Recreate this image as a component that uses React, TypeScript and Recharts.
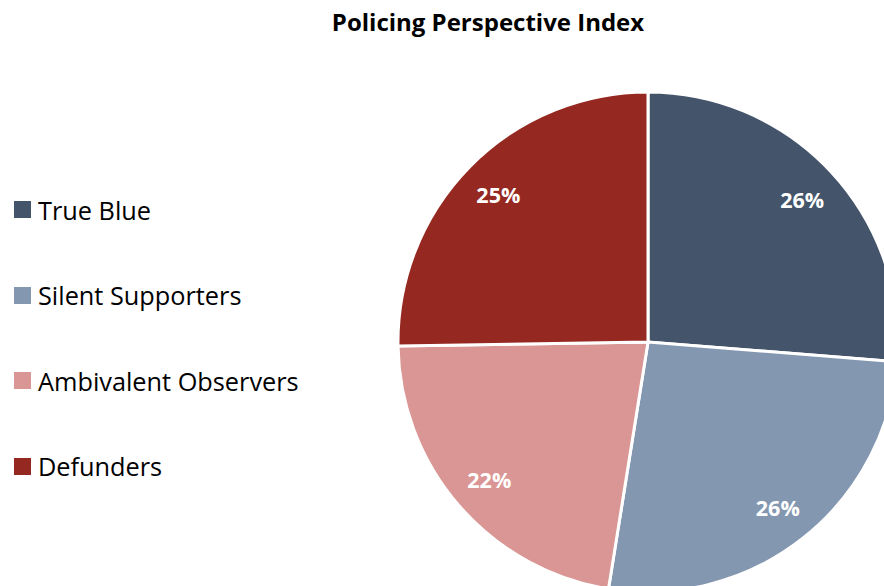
import { PieChart, Pie, Cell } from "recharts";

const categories = ["True Blue", "Silent Supporters", "Ambivalent Observers", "Defunders"];
const shares = [26, 26, 22, 25];
const colors = ["#44546A", "#8497B0", "#DA9694", "#952820"];

const data = categories.map((name, i) => ({ name, value: shares[i] }));

const FONT = "'Open Sans', 'Noto Sans', sans-serif";
const RAD = Math.PI / 180;

function renderLabel(props: any) {
  const { cx, cy, midAngle, outerRadius, percent } = props;
  const r = outerRadius * 0.84;
  const x = cx + r * Math.cos(-midAngle * RAD);
  const y = cy + r * Math.sin(-midAngle * RAD);
  return (
    <text
      x={x}
      y={y}
      fill="#fff"
      textAnchor="middle"
      dominantBaseline="central"
      style={{ fontFamily: FONT, fontSize: 21.5, fontWeight: 700 }}
    >
      {`${Math.round(percent * 100)}%`}
    </text>
  );
}

function LegendBox() {
  return (
    <div style={{ position: "absolute", left: 14, top: 167, fontFamily: FONT }}>
      {categories.map((name, i) => (
        <div key={name} style={{ display: "flex", alignItems: "center", height: 85.5 }}>
          <span style={{ width: 17, height: 17, background: colors[i], marginRight: 7 }} />
          <span style={{ fontSize: 25.3, color: "#000", whiteSpace: "nowrap" }}>{name}</span>
        </div>
      ))}
    </div>
  );
}

export default function App() {
  return (
    <div style={{ position: "absolute", left: 0, top: 0, width: 884, height: 586, background: "#fff", overflow: "hidden" }}>
      <div
        style={{
          position: "absolute",
          top: 5,
          left: 0,
          width: 976,
          textAlign: "center",
          fontFamily: FONT,
          fontWeight: 700,
          fontSize: 24,
          color: "#000",
        }}
      >
        Policing Perspective Index
      </div>
      <LegendBox />
      <div style={{ position: "absolute", left: 0, top: 0 }}>
        <PieChart width={884} height={586} margin={{ top: 0, right: 0, bottom: 0, left: 0 }}>
          <Pie
            data={data}
            dataKey="value"
            nameKey="name"
            cx={648}
            cy={342}
            outerRadius={250}
            startAngle={90}
            endAngle={-270}
            stroke="#fff"
            strokeWidth={3}
            label={renderLabel}
            labelLine={false}
            isAnimationActive={false}
          >
            {data.map((d, i) => (
              <Cell key={d.name} fill={colors[i]} />
            ))}
          </Pie>
        </PieChart>
      </div>
    </div>
  );
}
